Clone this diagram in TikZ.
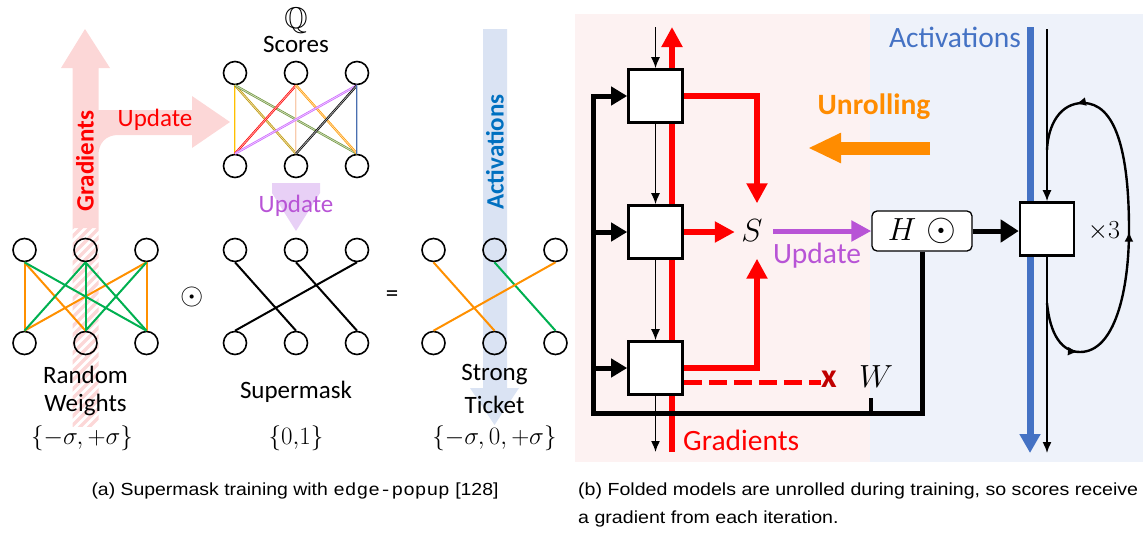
\RequirePackage{fix-cm}
\documentclass[tikz,border=0pt]{standalone}
\usepackage{amssymb}
\usepackage{graphicx}
\usepackage{fontspec}
\setmainfont{Carlito}
\newfontfamily\capfont{Liberation Sans}
\newfontfamily\capmono{Liberation Mono}
\usetikzlibrary{arrows.meta,decorations.markings}

% colours
\definecolor{pinkfill}{RGB}{252,215,215}
\definecolor{lavfill}{RGB}{232,208,246}
\definecolor{actfill}{RGB}{218,227,243}
\definecolor{gradred}{RGB}{255,0,0}
\definecolor{updpurple}{RGB}{184,84,214}
\definecolor{actbold}{RGB}{0,112,192}
\definecolor{actline}{RGB}{68,114,196}
\definecolor{unroll}{RGB}{255,140,0}
\definecolor{xred}{RGB}{192,0,0}
\definecolor{pinkbg}{RGB}{253,242,242}
\definecolor{bluebg}{RGB}{238,242,250}
\definecolor{wgreen}{RGB}{0,176,80}
\definecolor{worange}{RGB}{255,144,0}
\definecolor{sgold}{RGB}{255,192,0}
\definecolor{solive}{RGB}{191,150,0}
\definecolor{sgreen}{RGB}{112,150,60}
\definecolor{speach}{RGB}{248,203,173}
\definecolor{sorange}{RGB}{255,153,0}
\definecolor{sviolet}{RGB}{204,102,255}
\definecolor{sblue}{RGB}{74,111,176}

\tikzset{
  neuron/.style={circle, draw=black, line width=1.6pt, minimum size=23pt, inner sep=0pt},
  wedge/.style={line width=2pt},
  sedge/.style={line width=0.7pt, double distance=0.8pt},
  lbl/.style={font=\fontsize{25}{28}\selectfont, inner sep=0pt},
  lblb/.style={font=\bfseries\fontsize{25}{28}\selectfont, inner sep=0pt},
  rlbl/.style={font=\fontsize{29.5}{32}\selectfont, inner sep=0pt},
  rlblb/.style={font=\bfseries\fontsize{29.5}{32}\selectfont, inner sep=0pt},
  mth/.style={font=\fontsize{25}{28}\selectfont, inner sep=0pt},
  bigmth/.style={font=\fontsize{32}{36}\selectfont, inner sep=0pt},
  blk/.style={draw=black, line width=2.6pt, fill=white, minimum width=54pt, minimum height=53pt, inner sep=0pt},
  thin arrow/.style={line width=1.5pt, -{Latex[length=11pt,width=9pt]}},
  red thick/.style={draw=gradred, line width=6.5pt, -{Triangle[length=20pt,width=20pt]}},
  black thick/.style={line width=5pt, -{Triangle[length=16pt,width=18pt]}},
  captxt/.style={font=\capfont\fontsize{17.5}{20}\selectfont, inner sep=0pt},
}

\begin{document}
\begin{tikzpicture}[x=1pt,y=-1pt]
\useasboundingbox (0,0) rectangle (1147,536);

% ================= (a) edge-popup =================
% gradient arrow with its update branch
\fill[pinkfill] (72.5,228) -- (72.5,68) -- (61,68) -- (85,29) -- (110,68) -- (98.5,68)
  -- (98.5,110) -- (192,110) -- (192,96) -- (230,122) -- (192,148) -- (192,135)
  -- (118,135) .. controls (106,135) and (98.5,143) .. (98.5,155) -- (98.5,228) -- cycle;
\begin{scope}
  \clip (72.5,228) rectangle (98.5,426);
  \foreach \k in {0,...,24}
    \draw[pinkfill, line width=3.5pt] (60,240+\k*9) -- (112,188+\k*9);
\end{scope}
% activation arrow
\fill[actfill] (483,29) -- (507,29) -- (507,388) -- (519,388) -- (494.5,425) -- (470,388) -- (483,388) -- cycle;
% score update arrow
\fill[lavfill] (272,183) -- (320,183) -- (320,193) -- (296,231) -- (272,193) -- cycle;

\node[lblb, text=gradred, rotate=90] (gradlbl) at (85,161) {Gradients};
\node[lbl, text=gradred] (upd1) at (155,120) {Update};
\node[lblb, text=actbold, rotate=90] (actlbl) at (495,152) {Activations};
\node[lbl, text=updpurple] (upd2) at (296,206) {Update};

% neurons
\foreach \p/\cx/\ty/\by in {r/85.5/250/343, m/296/250/343, t/494.5/250/343, q/296/73/166} {
  \foreach \i in {1,2,3} {
    \node[neuron] (\p t\i) at ({\cx+(\i-2)*61},\ty) {};
    \node[neuron] (\p b\i) at ({\cx+(\i-2)*61},\by) {};
  }
}
% random weights
\foreach \a/\b/\c in {1/1/worange, 1/2/worange, 3/1/worange, 3/3/worange,
                      1/3/wgreen, 2/1/wgreen, 2/2/wgreen, 2/3/wgreen, 3/2/wgreen}
  \draw[wedge, \c] (rt\a.south) -- (rb\b.north);
% supermask
\foreach \a/\b in {1/2, 2/3, 3/1}
  \draw[wedge, black] (mt\a.south) -- (mb\b.north);
% strong ticket
\foreach \a/\b/\c in {1/2/worange, 2/3/wgreen, 3/1/worange}
  \draw[wedge, \c] (tt\a.south) -- (tb\b.north);
% scores
\foreach \a/\b/\c in {1/1/sgold, 1/2/solive, 1/3/sgreen, 2/1/red, 2/2/speach,
                      2/3/sorange, 3/1/sviolet, 3/2/black, 3/3/sblue}
  \draw[sedge, draw=\c, double=\c!35] (qt\a.south) -- (qb\b.north);

\node[mth] (qset) at (296,21) {\scalebox{1.2}{$\mathbb{Q}$}};
\node[lbl] (scores) at (296,44) {Scores};
\node[lbl] (rnd) at (85.5,375) {Random};
\node[lbl] (wts) at (85.5,405) {Weights};
\node[mth] (rset) at (82,438) {$\{-\sigma,+\sigma\}$};
\node[font=\fontsize{30}{34}\selectfont, inner sep=0pt] (odot) at (192,297) {$\odot$};
\node[lbl] (smask) at (296,392) {Supermask};
\node[mth] (mset) at (296,438) {$\{0{,}1\}$};
\node[lbl] (eq) at (392,296) {=};
\node[lbl] (strong) at (494.5,375) {Strong};
\node[lbl] (ticket) at (494.5,405) {Ticket};
\node[mth] (tset) at (494.5,438) {$\{-\sigma,0,+\sigma\}$};

\node[captxt, anchor=base] (capa) at (295,495)
  {\scalebox{1.11}[1]{(a) Supermask training with {\capmono edge-popup} [128]}};

% ================= (b) folded model =================
\fill[pinkbg] (575,14) rectangle (870,462);
\fill[bluebg] (870,14) rectangle (1143,462);

% gradient stream (behind the blocks)
\coordinate (rbot) at (672,452);
\coordinate (rtop) at (672,27);
\draw[red thick] (rbot) -- (rtop);
% activation stream
\coordinate (abtop) at (1030,27);
\coordinate (abbot) at (1030,453);
\draw[draw=actline, line width=7pt, -{Triangle[length=19pt,width=20pt]}] (abtop) -- (abbot);

% unrolled blocks and folded block
\node[blk] (b1) at (655.5,96) {};
\node[blk] (b2) at (655.5,232) {};
\node[blk] (b3) at (655.5,368) {};
\node[blk] (b4) at (1047,229) {};

\coordinate (intop) at (655.5,27);
\coordinate (outbot) at (655.5,452);
\draw[thin arrow] (intop) -- (b1.north);
\draw[thin arrow] (b1.south) -- (b2.north);
\draw[thin arrow] (b2.south) -- (b3.north);
\draw[thin arrow] (b3.south) -- (outbot);

% scores collect the gradients
\node[bigmth, minimum width=34pt, minimum height=55pt] (S) at (752,231) {$S$};
\draw[red thick] (b1.east) -| ([xshift=5pt]S.north);
\draw[red thick] (b2.east) -- (b2.east -| S.west);
\draw[red thick] (b3.east) -| ([xshift=5pt]S.south);
\node[text=xred, font=\bfseries\fontsize{34}{36}\selectfont, inner sep=0pt] (xm) at (829,379) {x};
\draw[draw=gradred, line width=5pt, dash pattern=on 18pt off 7pt] ([yshift=-14pt]b3.east) -- ([yshift=-14pt]b3.east -| xm.west);

% mask node and weight path
\node[draw, rounded corners=5pt, line width=1.3pt, fill=white, minimum width=100pt,
      minimum height=40pt, inner sep=0pt, font=\fontsize{32}{36}\selectfont] (H) at (922,231)
      {$H$\hspace{10pt}\scalebox{1.2}{$\odot$}};
\draw[draw=updpurple, line width=5pt, -{Triangle[length=20pt,width=20pt]}] ([xshift=4pt]S.east) -- (S.east -| H.west);
\node[rlbl, text=updpurple] (upd3) at (817,256) {Update};

\coordinate (corner) at (593,413);
\draw[black thick] (H.south) |- (corner) |- (b1.west);
\draw[black thick] (b2.west -| corner) -- (b2.west);
\draw[black thick] (b3.west -| corner) -- (b3.west);
\node[bigmth] (W) at (876,377) {$W$};
\coordinate (wtick) at (871,398);
\draw[line width=4pt] (wtick) -- (wtick |- corner);

\draw[line width=5pt, -{Triangle[length=18pt,width=22pt]}] (H.east) -- (H.east -| b4.west);

% folded block input/output and recurrence
\coordinate (ftop) at (1047,29);
\coordinate (fbot) at (1047,453);
\draw[thin arrow] (ftop) -- (b4.north);
\draw[thin arrow] (b4.south) -- (fbot);
\coordinate (lpa) at (1047,303);
\coordinate (lpb) at (1047,150);
\draw[line width=2.4pt, postaction={decorate}, decoration={markings,
    mark=at position 0.15 with {\arrow{Latex[length=10pt,width=9pt]}},
    mark=at position 0.49 with {\arrow{Latex[length=10pt,width=9pt]}},
    mark=at position 0.86 with {\arrow{Latex[length=10pt,width=9pt]}}}]
  (lpa) .. controls (1050,335) and (1062,352) .. (1080,352)
        .. controls (1115,352) and (1129,290) .. (1129,230)
        .. controls (1129,150) and (1115,103) .. (1083,103)
        .. controls (1060,103) and (1048,125) .. (lpb);
\node[font=\fontsize{26}{28}\selectfont, inner sep=0pt] (x3) at (1104,231) {$\times 3$};

\node[rlbl, text=actline, anchor=east] (act2) at (1021,37) {Activations};
\node[rlblb, text=unroll] (unrl) at (874,107) {Unrolling};
\coordinate (unA) at (930,148);
\coordinate (unB) at (808,148);
\draw[draw=unroll, line width=13pt, -{Triangle[length=33pt,width=28pt]}] (unA) -- (unB);
\node[rlbl, text=gradred, anchor=west] (grad2) at (683,440) {Gradients};

\node[captxt, anchor=base west] (capb1) at (578,495)
  {\scalebox{1.12}[1]{(b) Folded models are unrolled during training, so scores receive}};
\node[captxt, anchor=base west] (capb2) at (578,523)
  {\scalebox{1.12}[1]{a gradient from each iteration.}};
\end{tikzpicture}
\end{document}
